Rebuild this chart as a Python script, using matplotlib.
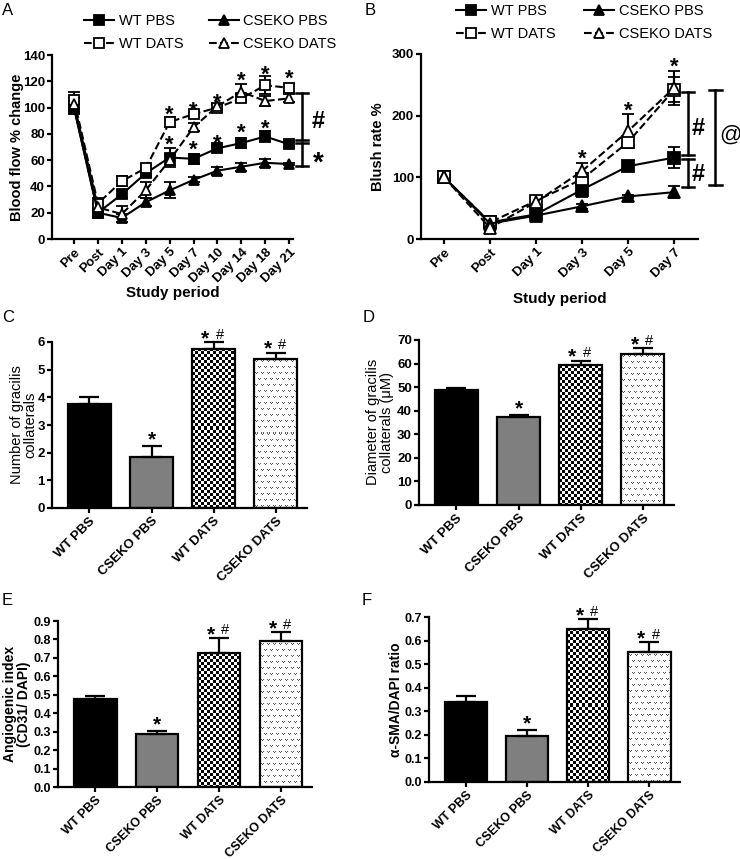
import numpy as np
import matplotlib
matplotlib.use("Agg")
import matplotlib.pyplot as plt
from matplotlib.lines import Line2D

plt.rcParams['font.family'] = ['Liberation Sans', 'DejaVu Sans']

# ---- data -------------------------------------------------------------
days_a = ['Pre', 'Post', 'Day 1', 'Day 3', 'Day 5', 'Day 7', 'Day 10', 'Day 14', 'Day 18', 'Day 21']
flow_wt_pbs = [100, 20, 34, 50, 62, 61, 69, 73, 78, 72]
flow_wt_pbs_err = [5, 3, 3, 2, 7, 4, 2, 4, 4, 2]
flow_wt_dats = [106, 27, 44, 54, 89, 95, 100, 107, 117, 115]
flow_wt_dats_err = [6, 4, 4, 2, 4, 2, 2, 3, 7, 3]
flow_ko_pbs = [100, 20, 16, 28, 37, 45, 52, 55, 58, 57]
flow_ko_pbs_err = [3, 2, 3, 3, 6, 2, 3, 3, 3, 1]
flow_ko_dats = [103, 24, 19, 37, 60, 85, 101, 112, 105, 107]
flow_ko_dats_err = [4, 3, 6, 6, 4, 3, 2, 6, 4, 3]
flow_star_hi = [(4, 100), (5, 103), (6, 109), (7, 126), (8, 130), (9, 127)]
flow_star_lo = [(4, 77), (5, 73), (6, 78), (7, 86), (8, 89)]

days_b = ['Pre', 'Post', 'Day 1', 'Day 3', 'Day 5', 'Day 7']
blush_wt_pbs = [100, 27, 40, 80, 118, 132]
blush_wt_pbs_err = [3, 3, 4, 12, 8, 17]
blush_wt_dats = [100, 27, 62, 97, 157, 242]
blush_wt_dats_err = [4, 4, 5, 10, 10, 20]
blush_ko_pbs = [100, 25, 38, 53, 69, 76]
blush_ko_pbs_err = [3, 3, 5, 4, 3, 10]
blush_ko_dats = [100, 18, 60, 110, 175, 245]
blush_ko_dats_err = [4, 5, 5, 13, 28, 28]
blush_star = [(3, 141), (4, 220), (5, 291)]

groups = ['WT PBS', 'CSEKO PBS', 'WT DATS', 'CSEKO DATS']
coll_num = [3.75, 1.85, 5.75, 5.4]
coll_num_err = [0.25, 0.38, 0.25, 0.22]
coll_diam = [49.0, 37.3, 59.3, 64.2]
coll_diam_err = [0.8, 0.8, 2.0, 2.5]
angio = [0.475, 0.285, 0.725, 0.79]
angio_err = [0.02, 0.02, 0.085, 0.05]
sma = [0.34, 0.195, 0.65, 0.55]
sma_err = [0.025, 0.025, 0.04, 0.045]
bar_marks = ['', '*', '*#', '*#']

W, H = 740, 859
fig = plt.figure(figsize=(7.4, 8.59), dpi=100)


def px_axes(l, t, r, b):
    return fig.add_axes([l / W, 1 - b / H, (r - l) / W, (b - t) / H])


def style(ax, labels, fs=9.5):
    for s in ['top', 'right']:
        ax.spines[s].set_visible(False)
    for s in ['left', 'bottom']:
        ax.spines[s].set_linewidth(1.6)
    ax.tick_params(width=1.6, length=3.6, pad=1.5, labelsize=fs)
    ax.set_xticks(range(len(labels)))
    ax.set_xticklabels(labels, rotation=45, ha='right', rotation_mode='anchor', fontweight='bold')
    plt.setp(ax.get_yticklabels(), fontweight='bold')


# vertical centre of glyph ink as fraction of font size
ink = {'*': 0.58, '#': 0.35, '@': 0.28}


def mark(ax, x, y, s, fs, dx=0, dy=0, weight='bold'):
    ax.annotate(s, (x, y), xytext=(dx, dy - ink[s] * fs), textcoords='offset points',
                ha='center', va='baseline', fontsize=fs, fontweight=weight,
                annotation_clip=False)


def bracket(ax, x, y0, y1, w):
    ax.plot([x, x], [y0, y1], color='black', lw=1.8, clip_on=False)
    for y in (y0, y1):
        ax.plot([x - w / 2, x + w / 2], [y, y], color='black', lw=1.8, clip_on=False)


sty = {
    'WT PBS': dict(marker='s', mfc='black', ls='-'),
    'WT DATS': dict(marker='s', mfc='white', ls='--'),
    'CSEKO PBS': dict(marker='^', mfc='black', ls='-'),
    'CSEKO DATS': dict(marker='^', mfc='white', ls='--'),
}


def line_panel(ax, series, ms):
    handles = []
    for name, y, e in series:
        s = sty[name]
        ax.errorbar(range(len(y)), y, yerr=e, color='black', marker=s['marker'], mfc=s['mfc'],
                    mec='black', mew=1.3, ms=ms, lw=1.5, ls=s['ls'], capsize=4.5,
                    capthick=1.5, elinewidth=1.5, clip_on=False)
        handles.append(Line2D([], [], color='black', marker=s['marker'], mfc=s['mfc'],
                              mec='black', mew=1.3, ms=7, lw=1.5, ls=s['ls']))
    return handles


# ---- A ---------------------------------------------------------------
axA = px_axes(52, 55, 293, 239)
hA = line_panel(axA, [('WT PBS', flow_wt_pbs, flow_wt_pbs_err),
                      ('WT DATS', flow_wt_dats, flow_wt_dats_err),
                      ('CSEKO PBS', flow_ko_pbs, flow_ko_pbs_err),
                      ('CSEKO DATS', flow_ko_dats, flow_ko_dats_err)], 7)
axA.set_xlim(-0.92, 9.16)
axA.set_ylim(0, 140)
axA.set_yticks(range(0, 141, 20))
style(axA, days_a)
axA.set_xlabel('Study period', fontsize=11, fontweight='bold', labelpad=1)
for x, y in flow_star_hi + flow_star_lo:
    mark(axA, x, y, '*', 16)
bracket(axA, 9.54, 111, 75, 0.5)
bracket(axA, 9.54, 73, 55.5, 0.5)
mark(axA, 10.2, 90.5, '#', 17)
mark(axA, 10.2, 64, '*', 20)
fig.legend(hA, ['WT PBS', 'WT DATS', 'CSEKO PBS', 'CSEKO DATS'], ncol=2, frameon=False,
           loc='upper left', bbox_to_anchor=(77 / W, 1 - 7 / H), fontsize=10.5,
           borderpad=0, handlelength=2.05, handletextpad=0.3, columnspacing=1.75,
           labelspacing=0.6)

# ---- B ---------------------------------------------------------------
axB = px_axes(421, 54, 698, 239)
hB = line_panel(axB, [('WT PBS', blush_wt_pbs, blush_wt_pbs_err),
                      ('WT DATS', blush_wt_dats, blush_wt_dats_err),
                      ('CSEKO PBS', blush_ko_pbs, blush_ko_pbs_err),
                      ('CSEKO DATS', blush_ko_dats, blush_ko_dats_err)], 8)
axB.set_xlim(-0.5, 5.52)
axB.set_ylim(0, 300)
axB.set_yticks([0, 100, 200, 300])
style(axB, days_b)
axB.set_xlabel('Study period', fontsize=11, fontweight='bold', labelpad=9)
for x, y in blush_star:
    mark(axB, x, y, '*', 16)
bracket(axB, 5.3, 238, 137, 0.27)
bracket(axB, 5.3, 130, 84, 0.27)
bracket(axB, 5.9, 242, 88, 0.27)
mark(axB, 5.52, 182, '#', 17)
mark(axB, 5.52, 107, '#', 17)
mark(axB, 6.22, 170, '@', 16, weight='normal')
fig.legend(hB, ['WT PBS', 'WT DATS', 'CSEKO PBS', 'CSEKO DATS'], ncol=2, frameon=False,
           loc='upper left', bbox_to_anchor=(449 / W, 1 + 3 / H), fontsize=10.5,
           borderpad=0, handlelength=2.05, handletextpad=0.3, columnspacing=2.0,
           labelspacing=0.6)


# ---- bar panels ------------------------------------------------------
def texture(ax, bar, kind):
    x0, y0, w, h = bar.get_x(), bar.get_y(), bar.get_width(), bar.get_height()
    (px0, py0), (px1, py1) = ax.transData.transform([(x0, y0), (x0 + w, y0 + h)])
    nx, ny = int(round(px1 - px0)), int(round(py1 - py0))
    r, c = np.indices((ny, nx))
    img = np.ones((ny, nx, 3))
    if kind == 'check':
        img[((r // 3 + c // 3) % 2) == 0] = 0
    else:
        rr = r % 6
        cc = (c + 3 * ((r // 6) % 2)) % 6
        vmask = ((rr == 2) & ((cc == 1) | (cc == 3))) | ((rr == 3) & (cc == 2))
        img[vmask] = 0.35
    ax.imshow(img, extent=(x0, x0 + w, y0, y0 + h), origin='upper', aspect='auto',
              interpolation='nearest', zorder=1)


def bar_panel(ax, vals, errs, ylim, yticks, fmt, fs=9.5):
    x = np.arange(len(groups))
    ax.set_xlim(-0.6, 3.5)
    ax.set_ylim(*ylim)
    bars = ax.bar(x, vals, width=0.69, color=['black', '#7f7f7f', 'none', 'none'],
                  edgecolor='black', linewidth=1.6, zorder=2)
    texture(ax, bars[2], 'check')
    texture(ax, bars[3], 'dots')
    ax.set_xlim(-0.6, 3.5)
    ax.set_ylim(*ylim)
    ax.errorbar(x, vals, yerr=[np.zeros(len(vals)), errs], fmt='none', ecolor='black',
                elinewidth=1.6, capsize=7.5, capthick=1.6, zorder=3, clip_on=False)
    ax.set_yticks(yticks)
    ax.set_yticklabels([fmt.format(t) for t in yticks])
    style(ax, groups, fs)
    for xi, v, e, m in zip(x, vals, errs, bar_marks):
        top = v + e
        if m == '*':
            mark(ax, xi, top, '*', 15, dy=9)
        elif m == '*#':
            mark(ax, xi, top, '*', 15, dx=-6, dy=7)
            mark(ax, xi, top, '#', 10.5, dx=4.5, dy=6, weight='normal')


axC = px_axes(52, 342, 307, 508)
bar_panel(axC, coll_num, coll_num_err, (0, 6), range(0, 7), '{}')
axD = px_axes(419, 340, 674, 505)
bar_panel(axD, coll_diam, coll_diam_err, (0, 70), range(0, 71, 10), '{}')
axE = px_axes(58, 621, 312, 787)
bar_panel(axE, angio, angio_err, (0, 0.9), np.arange(0, 0.91, 0.1), '{:.1f}', 9)
axF = px_axes(429, 617, 680, 782)
bar_panel(axF, sma, sma_err, (0, 0.7), np.arange(0, 0.71, 0.1), '{:.1f}', 9)


# ---- y labels & panel letters ------------------------------------------
def ylab(x, y, s, weight='bold', fs=10.5):
    fig.text(x / W, 1 - y / H, s, rotation=90, ha='center', va='center',
             fontsize=fs, fontweight=weight, linespacing=0.95)


ylab(17, 147, 'Blood flow % change')
ylab(378, 147, 'Blush rate %')
ylab(24, 425, 'Number of gracilis\ncollaterals', 'normal', 10.5)
ylab(380, 422, 'Diameter of gracilis\ncollaterals (μM)', 'normal', 10.5)
ylab(17, 704, 'Angiogenic index\n(CD31/ DAPI)', 'bold', 10)
ylab(396, 700, 'α-SMA/DAPI ratio', 'bold', 10)

for letter, x, y in [('A', 2, 3), ('B', 365, 3), ('C', 2, 310), ('D', 363, 310),
                     ('E', 2, 593), ('F', 362, 593)]:
    fig.text(x / W, 1 - y / H, letter, ha='left', va='top', fontsize=12)

fig.savefig('out.png', dpi=100)
